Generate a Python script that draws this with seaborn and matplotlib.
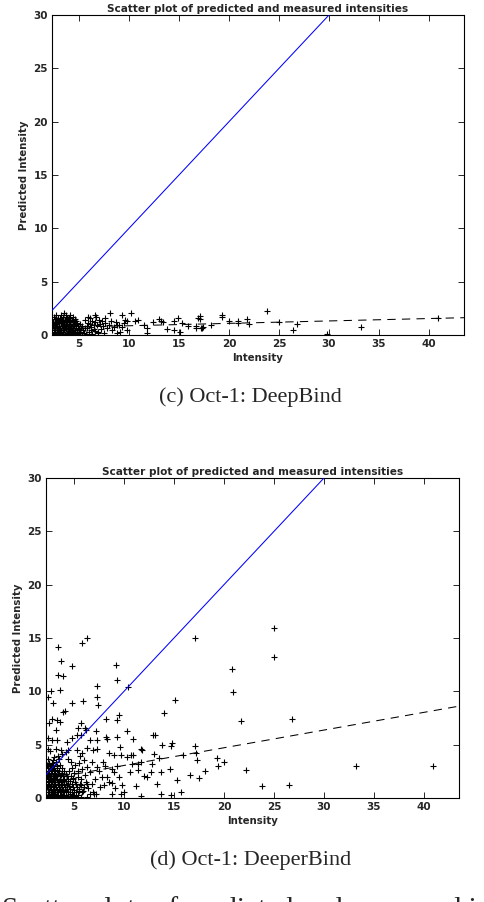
import numpy as np
import pandas as pd
import matplotlib
matplotlib.use("Agg")
import matplotlib.pyplot as plt
import seaborn as sns

# ---- (c) Oct-1: DeepBind : measured vs predicted intensity ----
deep_core = [
    (2.38, 0.04), (2.71, 0.07), (3.02, 0.03), (3.33, 0.06), (3.61, 0.02), (3.94, 0.05), (4.23, 0.08), (4.57, 0.03), (4.92, 0.06), (5.31, 0.04),
    (2.52, 0.26), (2.83, 0.22), (3.12, 0.28), (3.44, 0.24), (3.78, 0.21), (4.09, 0.27), (4.41, 0.23), (4.77, 0.29), (5.13, 0.25), (5.48, 0.22),
    (2.33, 0.46), (2.64, 0.43), (2.93, 0.48), (3.22, 0.44), (3.54, 0.47), (3.87, 0.42), (4.28, 0.46), (4.62, 0.49), (5.02, 0.44), (5.41, 0.47),
    (2.49, 0.66), (2.79, 0.63), (3.08, 0.68), (3.41, 0.64), (3.72, 0.67), (4.03, 0.62), (4.36, 0.66), (4.71, 0.69), (5.18, 0.65),
    (2.41, 0.86), (2.69, 0.83), (3.01, 0.88), (3.29, 0.84), (3.63, 0.87), (3.91, 0.82), (4.19, 0.86), (4.52, 0.89), (4.88, 0.84), (5.27, 0.87),
    (2.53, 1.06), (2.82, 1.03), (3.17, 1.08), (3.48, 1.04), (3.81, 1.07), (4.12, 1.02), (4.47, 1.06), (4.79, 1.09), (5.09, 1.04),
    (2.37, 1.26), (2.68, 1.23), (2.98, 1.28), (3.31, 1.24), (3.67, 1.27), (3.98, 1.22), (4.38, 1.26), (4.69, 1.29),
    (2.58, 1.46), (2.91, 1.43), (3.19, 1.48), (3.57, 1.44), (3.89, 1.47), (4.27, 1.42), (4.61, 1.46),
    (2.47, 1.66), (2.88, 1.63), (3.38, 1.68), (3.79, 1.64), (4.42, 1.67),
    (2.72, 1.86), (3.24, 1.83), (3.71, 1.88), (4.08, 1.91), (3.52, 2.02),
    (2.55, 0.15), (3.18, 0.14), (3.86, 0.13), (4.45, 0.15), (5.05, 0.16), (2.95, 0.56), (3.65, 0.55), (4.18, 0.57), (4.95, 0.57),
    (2.58, 0.95), (3.45, 0.95), (4.05, 0.96), (4.66, 0.97), (2.85, 1.35), (3.42, 1.36), (4.11, 1.34), (3.05, 1.55), (4.02, 1.56),
]
deep_spread = [
    (5.68, 0.12), (6.02, 0.31), (6.27, 0.08), (6.58, 0.42), (6.91, 0.19), (7.18, 0.52), (5.83, 0.61), (6.21, 0.79),
    (6.49, 0.58), (6.83, 0.93), (7.12, 1.02), (7.41, 0.81), (5.92, 1.12), (6.33, 1.31), (6.62, 1.18), (7.03, 1.41),
    (5.61, 1.38), (6.11, 1.62), (6.71, 1.71), (7.29, 1.29), (7.58, 1.08), (7.82, 0.63), (8.04, 0.98), (8.23, 1.31),
    (8.51, 0.79), (8.72, 1.22), (9.02, 0.91), (8.31, 0.47), (7.49, 0.22), (8.83, 0.21), (9.31, 0.72), (9.52, 1.12),
    (5.92, 1.72), (6.58, 1.88), (7.62, 1.56), (8.11, 2.02), (9.31, 1.91), (8.82, 0.94), (9.63, 1.42), (9.81, 1.27),
    (9.12, 0.31), (9.82, 0.47), (6.92, 0.31), (5.75, 0.85), (6.15, 0.45), (6.45, 0.98), (5.55, 0.62), (6.05, 1.05),
]
deep_outliers = [
    (10.2, 2.06), (10.9, 1.4), (10.6, 1.3), (11.5, 0.94), (11.8, 0.63), (11.8, 0.2), (12.4, 1.19), (13.0, 1.5),
    (13.2, 1.3), (13.4, 1.25), (13.8, 0.56), (14.5, 1.3), (14.9, 1.56), (15.3, 1.1), (14.5, 0.47), (15.1, 0.3),
    (15.9, 0.87), (16.9, 1.56), (16.7, 0.87), (17.3, 0.63), (17.1, 1.78), (17.1, 1.47), (16.7, 0.68), (17.2, 0.65),
    (17.4, 0.72), (18.2, 0.94), (19.3, 1.87), (19.3, 1.72), (20.0, 1.34), (20.9, 1.34), (20.9, 1.1), (21.8, 1.47),
    (22.0, 1.03), (23.8, 2.25), (25.0, 1.22), (26.8, 1.03), (26.4, 0.47), (29.8, 0.09), (33.2, 0.78), (40.9, 1.62),
]

# ---- (d) Oct-1: DeeperBind ----
deeper_core = [
    (2.31, 0.05), (2.62, 0.08), (2.93, 0.03), (3.21, 0.06), (3.52, 0.04), (3.83, 0.07), (4.12, 0.02), (4.43, 0.06), (4.71, 0.04), (5.02, 0.08), (5.33, 0.03), (5.68, 0.05),
    (2.42, 0.31), (2.73, 0.28), (3.04, 0.33), (3.32, 0.29), (3.63, 0.32), (3.91, 0.27), (4.22, 0.31), (4.58, 0.34), (4.92, 0.29), (5.41, 0.32),
    (2.22, 0.56), (2.51, 0.53), (2.82, 0.58), (3.13, 0.54), (3.42, 0.57), (3.71, 0.52), (4.03, 0.56), (4.38, 0.59), (4.81, 0.54), (5.19, 0.57), (5.82, 0.53),
    (2.39, 0.81), (2.68, 0.78), (2.99, 0.83), (3.28, 0.79), (3.61, 0.82), (3.92, 0.77), (4.27, 0.81), (4.63, 0.84), (5.01, 0.79), (5.52, 0.82),
    (2.29, 1.06), (2.61, 1.03), (2.91, 1.08), (3.19, 1.04), (3.48, 1.07), (3.79, 1.02), (4.11, 1.06), (4.52, 1.09), (4.88, 1.04), (5.31, 1.07), (6.02, 1.03),
    (2.41, 1.31), (2.72, 1.28), (3.02, 1.33), (3.38, 1.29), (3.69, 1.32), (4.01, 1.27), (4.42, 1.31), (4.79, 1.34), (5.61, 1.29),
    (2.21, 1.56), (2.49, 1.53), (2.81, 1.58), (3.11, 1.54), (3.47, 1.57), (3.82, 1.52), (4.18, 1.56), (4.61, 1.59), (5.12, 1.54),
    (2.38, 1.81), (2.69, 1.78), (3.01, 1.83), (3.31, 1.79), (3.62, 1.82), (3.98, 1.77), (4.41, 1.81), (4.91, 1.84), (5.72, 1.79),
    (2.28, 2.06), (2.59, 2.03), (2.92, 2.08), (3.22, 2.04), (3.58, 2.07), (3.89, 2.02), (4.29, 2.06), (4.72, 2.09),
    (2.42, 2.31), (2.71, 2.28), (3.03, 2.33), (3.39, 2.29), (3.81, 2.32), (4.19, 2.27), (5.02, 2.31),
    (2.21, 2.56), (2.52, 2.53), (2.83, 2.58), (3.12, 2.54), (3.51, 2.57), (3.98, 2.52), (4.48, 2.56),
    (2.39, 2.81), (2.68, 2.78), (3.01, 2.83), (3.32, 2.79), (3.79, 2.82),
    (2.31, 3.06), (2.62, 3.03), (2.91, 3.08), (3.28, 3.04), (3.61, 3.07),
    (2.51, 3.31), (2.82, 3.28), (3.18, 3.33),
    (2.42, 3.62), (2.88, 3.58), (3.49, 3.61),
    (3.02, 3.81), (3.41, 3.92), (3.79, 4.08), (4.21, 4.31),
    (2.55, 0.18), (3.15, 0.17), (3.75, 0.19), (4.35, 0.18), (2.85, 0.68), (3.55, 0.69), (4.15, 0.68), (2.45, 1.18),
    (3.05, 1.19), (3.65, 1.18), (4.25, 1.19), (2.65, 1.68), (3.25, 1.67), (3.85, 1.69), (2.45, 2.18), (3.05, 2.19),
    (3.65, 2.18), (2.65, 2.68), (3.25, 2.67), (2.45, 3.18),
]
deeper_spread = [
    (6.3, 0.1), (6.6, 0.4), (5.9, 0.7), (6.4, 0.9), (6.9, 0.6), (5.7, 1.2), (6.2, 1.5), (6.8, 1.3), (5.4, 2.0), (6.1, 2.2),
    (6.6, 2.4), (5.8, 2.7), (6.3, 2.9), (5.1, 3.1), (4.8, 2.8), (5.5, 3.3), (7.0, 0.4), (7.2, 0.4), (8.8, 0.4), (9.7, 0.4),
    (10.0, 0.56), (11.7, 0.16), (6.3, 1.35), (8.0, 1.2), (8.5, 1.5), (8.8, 1.4), (7.8, 2.0), (8.3, 2.0), (8.8, 2.75), (9.0, 2.4),
    (6.8, 3.4), (7.9, 3.4), (7.3, 2.9), (7.6, 1.0), (9.3, 3.0), (9.8, 1.2), (9.1, 0.9), (7.5, 2.5), (8.1, 3.0), (9.5, 2.0),
    (3.3, 5.4), (2.8, 5.4), (2.4, 5.6), (4.3, 5.25), (4.8, 5.6), (5.3, 5.9), (5.7, 5.9), (6.2, 6.35), (6.6, 5.4), (7.3, 5.4),
    (8.2, 5.7), (8.3, 5.5), (9.3, 5.7), (9.6, 4.8), (11.7, 4.6), (10.9, 5.5), (2.4, 4.6), (2.6, 4.4), (3.2, 4.6), (3.7, 4.5),
    (4.4, 4.5), (5.3, 4.5), (5.8, 4.25), (6.3, 4.7), (6.9, 4.5), (7.3, 4.6), (8.5, 4.2), (9.0, 4.0), (9.7, 4.0), (10.7, 4.0),
    (10.8, 3.2), (11.7, 3.4), (11.4, 2.6), (12.0, 2.1), (12.7, 2.4), (2.8, 7.4), (3.3, 7.3), (3.6, 7.1), (2.5, 7.0), (3.2, 6.35),
    (5.4, 6.6), (5.7, 7.0), (6.1, 6.6), (7.2, 6.25), (10.3, 6.3), (9.3, 7.3), (3.85, 8.1), (4.05, 8.15), (8.2, 7.4), (9.5, 7.8),
    (5.0, 0.2), (5.5, 0.7), (5.2, 1.3), (4.9, 1.8), (5.4, 2.5), (4.7, 3.4), (4.4, 3.7), (6.0, 3.6), (5.6, 3.9), (7.1, 1.8),
]
deeper_outliers = [
    (3.4, 14.2), (5.8, 14.5), (6.3, 15.0), (3.7, 12.8), (4.8, 12.4), (3.4, 11.5), (3.9, 11.4), (3.6, 10.1), (2.7, 10.0),
    (2.4, 9.5), (2.9, 8.9), (4.8, 8.9), (5.9, 9.1), (7.3, 10.5), (7.3, 9.5), (7.4, 8.7), (9.2, 12.5), (9.3, 11.1),
    (10.4, 10.4), (14.0, 8.0), (15.1, 9.2), (17.1, 15.0), (20.8, 12.1), (20.9, 9.9), (21.7, 7.2), (25.0, 15.9), (25.0, 13.2),
    (26.8, 7.4), (17.1, 4.85), (17.2, 4.2), (17.3, 3.6), (15.9, 4.0), (14.7, 4.9), (14.8, 5.2), (13.8, 5.0), (12.9, 5.9),
    (13.1, 5.9), (13.0, 4.1), (13.5, 3.75), (11.8, 4.5), (11.4, 3.2), (10.9, 4.0), (10.3, 3.8), (10.6, 2.4), (11.2, 1.1),
    (12.3, 2.0), (12.8, 3.2), (13.3, 1.3), (13.7, 2.4), (13.7, 0.4), (14.6, 2.75), (14.7, 0.25), (15.3, 1.7), (15.7, 0.6),
    (16.6, 2.2), (17.5, 1.9), (18.1, 2.5), (19.3, 3.75), (19.4, 3.0), (20.0, 3.4), (22.2, 2.6), (23.8, 1.1), (26.5, 1.2),
    (33.2, 3.0), (40.9, 3.0),
]

# dashed trend lines: intercept, slope
deep_fit = (0.64, 0.0226)
deeper_fit = (1.39, 0.166)
deep_xlim = (2.3, 43.5)
deeper_xlim = (2.2, 43.5)
y_max = 30
x_ticks = [5, 10, 15, 20, 25, 30, 35, 40]
y_ticks = [0, 5, 10, 15, 20, 25, 30]

title = "Scatter plot of predicted and measured intensities"
captions = ["(c) Oct-1: DeepBind", "(d) Oct-1: DeeperBind"]
footer = "Scatter plots of predicted and measured intensities"

sns.set_style("ticks")
plt.rcParams['font.family'] = ['DejaVu Sans']

W, H = 484, 902
fig = plt.figure(figsize=(W / 100, H / 100), dpi=100)
ax_top = fig.add_axes([52 / W, 1 - 335 / H, 412 / W, 320 / H])
ax_bot = fig.add_axes([46 / W, 1 - 798 / H, 413 / W, 320 / H])


def draw_panel(ax, pts, fit, xlim):
    df = pd.DataFrame(np.vstack(pts), columns=["Intensity", "Predicted"])
    sns.scatterplot(data=df, x="Intensity", y="Predicted", marker="+", color="black",
                    s=14, linewidth=0.8, antialiased=False, ax=ax, zorder=2)
    # identity line
    ax.plot([xlim[0], y_max], [xlim[0], y_max], color="#0000ff", lw=0.75, zorder=3)
    # trend line
    fx = np.array(xlim)
    ax.plot(fx, fit[0] + fit[1] * fx, color="black", lw=0.75, ls=(0, (8, 6)), zorder=3)
    ax.set_xlim(*xlim)
    ax.set_ylim(0, y_max)
    ax.set_xticks(x_ticks)
    ax.set_yticks(y_ticks)
    ax.tick_params(direction="in", length=4, width=0.7, top=True, right=True,
                   labelsize=7.5, pad=3)
    for lbl in ax.get_xticklabels() + ax.get_yticklabels():
        lbl.set_fontweight("bold")
    ax.set_xlabel("Intensity", fontsize=7.3, fontweight="bold", labelpad=2.5)
    ax.set_ylabel("Predicted Intensity", fontsize=7.3, fontweight="bold", labelpad=3)
    ax.set_title(title, fontsize=7.6, fontweight="bold", pad=2)
    for sp in ax.spines.values():
        sp.set_linewidth(0.8)
        sp.set_color("black")


draw_panel(ax_top, [deep_core, deep_spread, deep_outliers], deep_fit, deep_xlim)
draw_panel(ax_bot, [deeper_core, deeper_spread, deeper_outliers], deeper_fit, deeper_xlim)

fig.text(250 / W, 1 - 397 / H, captions[0], ha="center", va="center",
         family="Liberation Serif", fontsize=16)
fig.text(251 / W, 1 - 860 / H, captions[1], ha="center", va="center",
         family="Liberation Serif", fontsize=16)
# caption of the figure, only the tops of its letters are inside the picture
fig.text(2 / W, 1 - 917 / H, footer, ha="left", va="baseline",
         family="Liberation Serif", fontsize=21)

fig.savefig("out.png", dpi=100)
